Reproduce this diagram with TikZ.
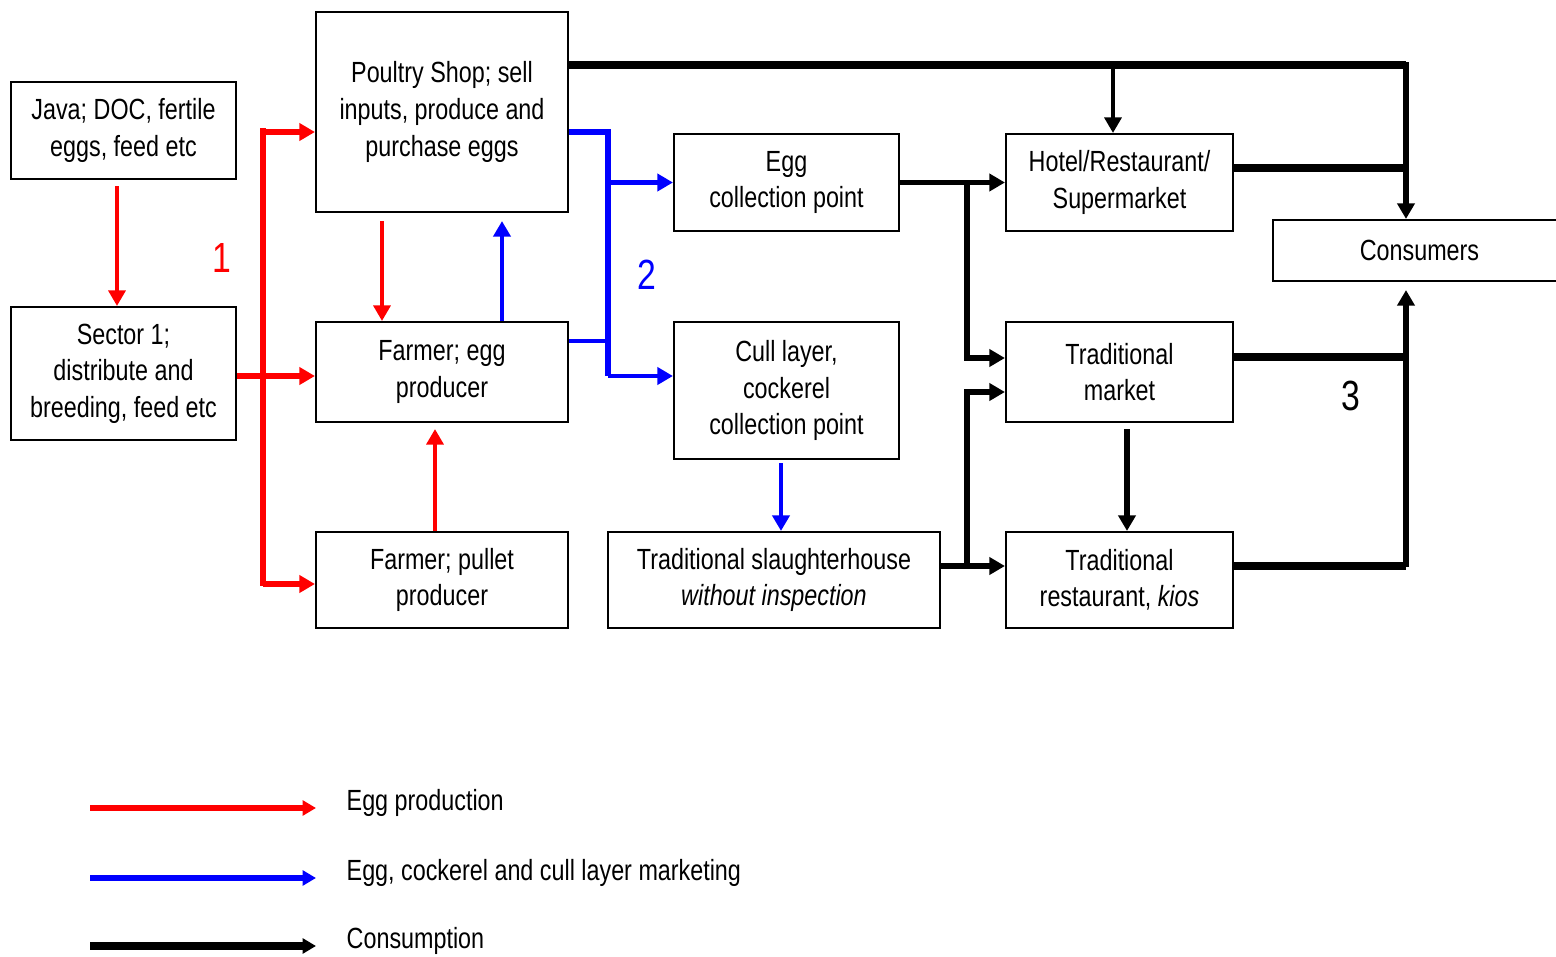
\documentclass[tikz,border=0pt]{standalone}
\usepackage{fontspec}
\setmainfont{Liberation Sans}[FakeStretch=0.8]
\usetikzlibrary{arrows.meta,calc}
\begin{document}
\begin{tikzpicture}[x=0.1mm,y=-0.1mm,
  box/.style={draw,line width=0.6pt,inner sep=0pt,align=center,
    font=\fontsize{8.3pt}{10.4pt}\selectfont},
  head/.style={-{Triangle[length=4.4pt,width=4.8pt]}},
  smallhead/.style={-{Triangle[length=3.8pt,width=4.2pt]}},
  redthick/.style={draw=red,line width=1.7pt},
  redthin/.style={draw=red,line width=1pt},
  bluethick/.style={draw=blue,line width=1.6pt},
  bluethin/.style={draw=blue,line width=1.3pt},
  blackthick/.style={draw=black,line width=2.1pt},
  blackmed/.style={draw=black,line width=1.5pt},
  blackthin/.style={draw=black,line width=1pt},
  numlabel/.style={font=\fontsize{12pt}{14pt}\selectfont},
  legendtext/.style={anchor=west,inner sep=0pt,font=\fontsize{8.3pt}{10.4pt}\selectfont}
]
\useasboundingbox (0,0) rectangle (1556,957);

% boxes
\node[box,minimum width=22.5mm,minimum height=9.7mm] (java) at (123.5,130.5)
  {Java; DOC, fertile\\eggs, feed etc};
\node[box,minimum width=22.5mm,minimum height=13.3mm] (sector) at (123.5,373.5)
  {Sector 1;\\distribute and\\breeding, feed etc};
\node[box,minimum width=25.2mm,minimum height=20mm] (shop) at (442,112)
  {Poultry Shop; sell\\inputs, produce and\\purchase eggs};
\node[box,minimum width=25.2mm,minimum height=10mm] (fegg) at (442,372)
  {Farmer; egg\\producer};
\node[box,minimum width=25.2mm,minimum height=9.6mm] (fpul) at (442,580)
  {Farmer; pullet\\producer};
\node[box,minimum width=22.5mm,minimum height=9.7mm] (eggcp) at (786.5,182.5)
  {Egg\\collection point};
\node[box,minimum width=22.5mm,minimum height=13.7mm] (cull) at (786.5,390.5)
  {Cull layer,\\cockerel\\collection point};
\node[box,minimum width=33.2mm,minimum height=9.6mm] (slaught) at (774,580)
  {Traditional slaughterhouse\\\textit{without inspection}};
\node[box,minimum width=22.7mm,minimum height=9.7mm] (hotel) at (1119.5,182.5)
  {Hotel/Restaurant/\\Supermarket};
\node[box,minimum width=22.7mm,minimum height=10mm] (tmarket) at (1119.5,372)
  {Traditional\\market};
\node[box,minimum width=22.7mm,minimum height=9.6mm] (trest) at (1119.5,580)
  {Traditional\\restaurant, \textit{kios}};
\node[box,minimum width=29.3mm,minimum height=6.1mm] (consumers) at (1419.5,250.5)
  {Consumers};

% egg production (red)
\draw[redthin,head] ($(java.south)+(-6.5,6)$) -- ($(sector.north)+(-6.5,0)$);
\coordinate (rTop) at (263,132);
\coordinate (rBot) at (263,584);
\draw[redthick] ($(rTop)+(0,-4)$) -- ($(rBot)+(0,2)$);
\draw[redthick,head] (rTop) -- (shop.west |- rTop);
\draw[redthick,head] ($(sector.east)+(0,2.5)$) -- ($(fegg.west)+(0,4)$);
\draw[redthick,head] (rBot) -- (fpul.west |- rBot);
\draw[redthin,head] ($(shop.south)+(-60,8)$) -- ($(fegg.north)+(-60,0)$);
\draw[redthin,head] ($(fpul.north)+(-7,0)$) -- ($(fegg.south)+(-7,6)$);
\node[numlabel,text=red] (n1) at (222,258) {1};

% egg, cockerel and cull layer marketing (blue)
\draw[bluethin,head] ($(fegg.north)+(60,0)$) -- ($(shop.south)+(60,8)$);
\coordinate (bTop) at (608,132);
\coordinate (bBot) at (608,376);
\draw[bluethick] ($(shop.east)+(0,20)$) -- (bTop) -- (bBot);
\draw[bluethin] ($(fegg.east)+(0,-31)$) -- (bTop |- 0,341);
\draw[bluethin,head] (bTop |- eggcp.west) -- (eggcp.west);
\draw[bluethin,head] (bBot) -- (cull.west |- bBot);
\draw[bluethin,head] ($(cull.south)+(-5.5,3)$) -- ($(slaught.north)+(7,0)$);
\node[numlabel,text=blue] (n2) at (647,275) {2};

% consumption (black)
\coordinate (kTR) at (1406,65);
\coordinate (kH) at (1113,65);
\draw[blackthick] ($(shop.east)+(0,-47)$) -- (kTR);
\draw[blackmed,head] ($(kTR)+(0,-3)$) -- (consumers.north -| kTR);
\draw[blackthin,head] (kH) -- (kH |- hotel.north);
\draw[blackthick] ($(hotel.east)+(0,-14.5)$) -- (kTR |- 0,168);

\coordinate (kV) at (967,184);
\coordinate (kW) at (967,566);
\draw[blackmed,head] (eggcp.east) -- (hotel.west);
\draw[blackmed,head] (kV) -- (kV |- 0,358) -- (tmarket.west |- 0,358);
\draw[blackmed,head] ($(slaught.east)+(0,-14)$) -- ($(trest.west)+(0,-14)$);
\draw[blackmed,head] (kW) -- (kW |- 0,392) -- (tmarket.west |- 0,392);

\draw[blackthick] ($(tmarket.east)+(0,-15)$) -- (kTR |- 0,357);
\draw[blackthick] ($(trest.east)+(0,-14)$) -- (kTR |- 0,566);
\draw[blackmed,head] ($(kTR |- 0,566)+(0,1)$) -- ($(consumers.south -| kTR)+(0,8)$);
\draw[blackmed,head] ($(tmarket.south)+(7.5,6)$) -- ($(trest.north)+(7.5,0)$);
\node[numlabel] (n3) at (1351,396) {3};

% legend
\coordinate (l1a) at (90,808);  \coordinate (l1b) at (316,808);
\coordinate (l2a) at (90,878);  \coordinate (l2b) at (316,878);
\coordinate (l3a) at (90,946);  \coordinate (l3b) at (316,946);
\draw[redthick,smallhead] (l1a) -- (l1b);
\draw[bluethick,smallhead] (l2a) -- (l2b);
\draw[blackthick,smallhead] (l3a) -- (l3b);
\node[legendtext] (t1) at (346,803) {Egg production};
\node[legendtext] (t2) at (346,873) {Egg, cockerel and cull layer marketing};
\node[legendtext] (t3) at (346,941) {Consumption};
\end{tikzpicture}
\end{document}
